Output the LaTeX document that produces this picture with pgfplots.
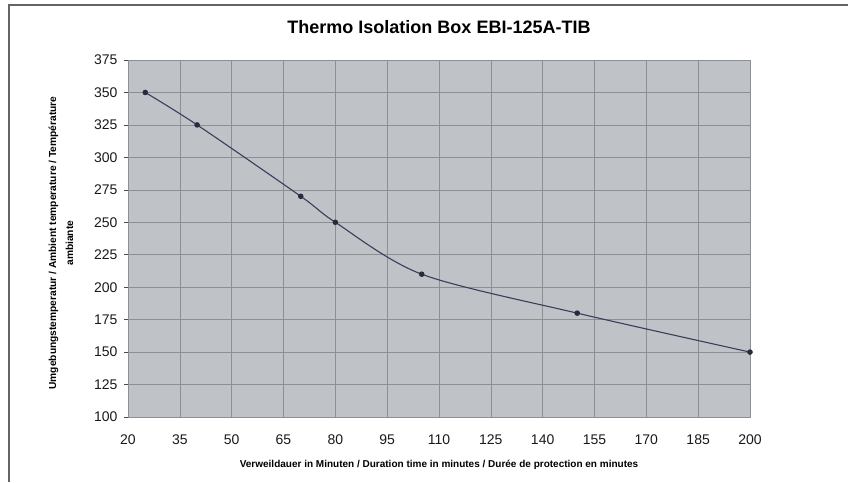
\documentclass[border=0pt]{standalone}
\usepackage{pgfplots}
\pgfplotsset{compat=1.18}
\usepackage{fontspec}
\setmainfont{Liberation Sans}
\definecolor{plotbg}{RGB}{191,194,199}
\definecolor{gridc}{RGB}{140,143,148}
\definecolor{linec}{RGB}{58,62,88}
\definecolor{markc}{RGB}{40,43,62}
\definecolor{framec}{RGB}{100,100,100}
\begin{document}
\begin{tikzpicture}
\begin{axis}[
    scale only axis,
    width=622pt, height=357pt,
    at={(0,0)}, anchor=south west,
    xmin=20, xmax=200,
    ymin=100, ymax=375,
    xtick={20,35,...,200},
    ytick={100,125,...,375},
    ytick pos=left,
    grid=major,
    major grid style={gridc, line width=0.6pt},
    axis background/.style={fill=plotbg},
    axis line style={gridc, line width=0.8pt},
    xtick style={draw=none},
    ytick style={black!70, line width=0.6pt},
    tick align=outside,
    major tick length=4pt,
    tick label style={font=\fontsize{14}{14}\selectfont, text=black!90},
    /pgf/number format/assume math mode=true,
    xticklabel style={yshift=-10pt},
    yticklabel style={xshift=-3pt},
    title={\textbf{Thermo Isolation Box EBI-125A-TIB}},
    title style={font=\fontsize{18}{18}\selectfont, at={(axis description cs:0.5,1.0756)}, anchor=center},
    xlabel={\textbf{Verweildauer in Minuten / Duration time in minutes / Durée de protection en minutes}},
    xlabel style={font=\fontsize{10}{10}\selectfont, at={(axis description cs:0.5,-0.1345)}, anchor=center},
    ylabel={\textbf{Umgebungstemperatur / Ambient temperature / Température}\\\textbf{ambiante}},
    ylabel style={font=\fontsize{10.2}{17}\selectfont, align=center, at={(axis description cs:-0.1077,0.487)}, anchor=center},
  ]
  \addplot[linec, line width=1.1pt, smooth, tension=0.5,
    mark=*, mark size=2.2pt, mark options={fill=markc, draw=markc}]
    coordinates {
      (25,350) (40,325) (70,270) (80,250) (105,210) (150,180) (200,150)
    };
  \node[font=\fontsize{8}{8}\selectfont\bfseries] at (axis description cs:0.0096,1.053) {°C};
\end{axis}
\pgfresetboundingbox
\path[use as bounding box] (-128pt,-65pt) rectangle (720pt,417pt);
\draw[framec, line width=1.6pt] (-120pt,412pt) -- (720pt,412pt);
\draw[framec, line width=1.6pt] (-119pt,412pt) -- (-119pt,-65pt);
\end{tikzpicture}
\end{document}
